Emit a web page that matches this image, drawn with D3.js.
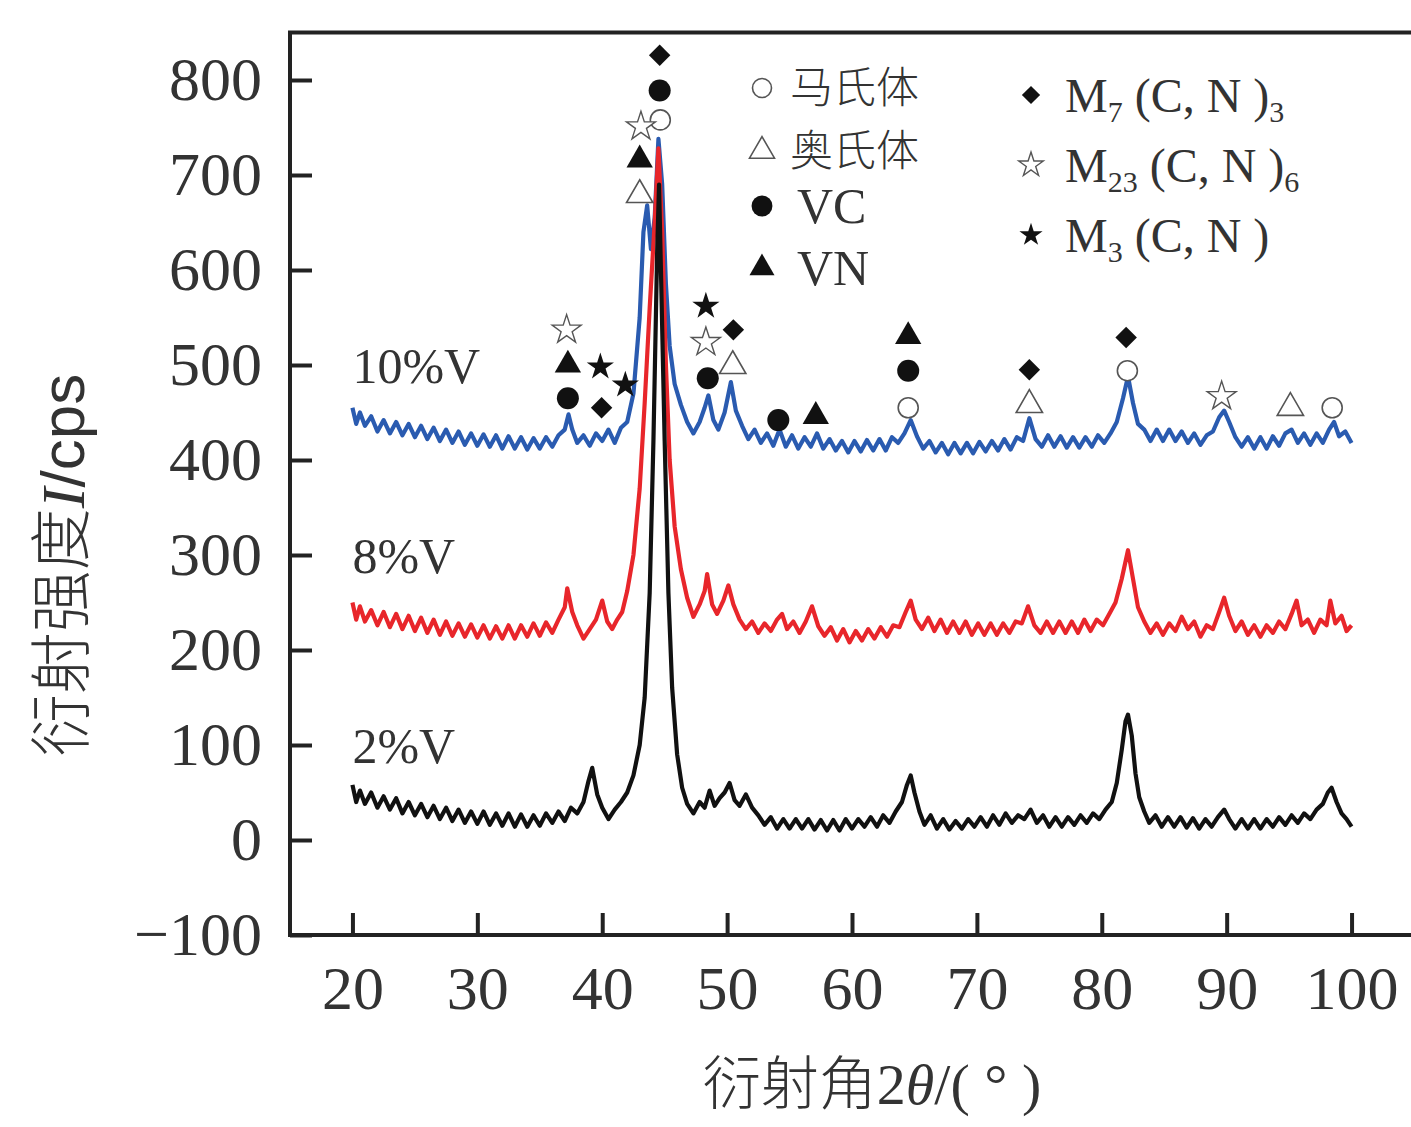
<!DOCTYPE html>
<html>
<head>
<meta charset="utf-8">
<script src="https://cdn.jsdelivr.net/npm/d3@7"></script>
<style>
  body { margin: 0; background: #fff; }
  svg { display: block; }
  .serif { font-family: "Liberation Serif", "DejaVu Serif", serif; }
  .cjk { font-family: "Noto Sans CJK SC", sans-serif; font-weight: 300; }
</style>
</head>
<body>
<svg id="chart"></svg>
<script>
// tick values
var xTicks = [20, 30, 40, 50, 60, 70, 80, 90, 100];
var yTicks = [-100, 0, 100, 200, 300, 400, 500, 600, 700, 800];

// 10%V pattern (angle, cps)
var series10 = [
  [20.0,455],[20.3,438],[20.6,450],[21.0,436],[21.5,446],[22.0,430],[22.5,442],[23.0,428],[23.5,440],[24.0,426],
  [24.5,438],[25.0,424],[25.5,436],[26.0,422],[26.5,434],[27.0,420],[27.5,432],[28.0,418],[28.5,430],[29.0,416],
  [29.5,428],[30.0,415],[30.5,427],[31.0,414],[31.5,426],[32.0,412],[32.5,425],[33.0,412],[33.5,424],[34.0,411],
  [34.5,423],[35.0,412],[35.5,424],[36.0,414],[36.5,426],[37.0,432],[37.3,448],[37.6,432],[38.0,418],[38.5,426],
  [39.0,415],[39.5,428],[40.0,420],[40.5,432],[41.0,418],[41.5,434],[42.0,440],[42.5,470],[43.0,550],[43.3,640],
  [43.6,668],[43.9,622],[44.2,655],[44.5,738],[44.8,690],[45.1,585],[45.4,520],[45.8,480],[46.3,458],[46.8,440],
  [47.3,428],[47.8,440],[48.2,455],[48.5,468],[48.9,442],[49.3,432],[49.8,450],[50.3,482],[50.7,452],[51.2,436],
  [51.7,422],[52.2,432],[52.7,418],[53.2,428],[53.7,415],[54.2,432],[54.7,414],[55.2,426],[55.7,412],[56.2,424],
  [56.7,414],[57.2,428],[57.7,412],[58.2,422],[58.7,410],[59.2,420],[59.7,408],[60.2,420],[60.7,409],[61.2,421],
  [61.7,410],[62.2,422],[62.7,410],[63.2,424],[63.7,418],[64.2,428],[64.7,442],[65.2,425],[65.7,412],[66.2,420],
  [66.7,408],[67.2,418],[67.7,406],[68.2,418],[68.7,407],[69.2,418],[69.7,407],[70.2,419],[70.7,409],[71.2,420],
  [71.7,410],[72.2,422],[72.7,411],[73.2,424],[73.7,420],[74.2,444],[74.7,422],[75.2,414],[75.7,426],[76.2,414],
  [76.7,425],[77.2,413],[77.7,424],[78.2,413],[78.7,424],[79.2,414],[79.7,426],[80.2,418],[80.7,428],[81.2,440],
  [81.7,465],[82.1,488],[82.5,460],[82.9,438],[83.4,432],[83.9,420],[84.4,432],[84.9,420],[85.4,432],[85.9,420],
  [86.4,430],[86.9,418],[87.4,428],[87.9,416],[88.4,426],[88.9,430],[89.4,445],[89.8,452],[90.2,440],[90.7,424],
  [91.2,414],[91.7,424],[92.2,412],[92.7,424],[93.2,412],[93.7,425],[94.2,415],[94.7,428],[95.2,432],[95.7,418],
  [96.2,428],[96.7,416],[97.2,428],[97.7,418],[98.2,432],[98.6,440],[99.0,425],[99.5,430],[100.0,418]
];

// 8%V pattern
var series8 = [
  [20.0,250],[20.3,232],[20.6,246],[21.0,230],[21.5,242],[22.0,226],[22.5,240],[23.0,224],[23.5,238],[24.0,222],
  [24.5,236],[25.0,220],[25.5,234],[26.0,218],[26.5,232],[27.0,216],[27.5,230],[28.0,215],[28.5,228],[29.0,214],
  [29.5,227],[30.0,213],[30.5,226],[31.0,212],[31.5,225],[32.0,212],[32.5,226],[33.0,212],[33.5,226],[34.0,214],
  [34.5,228],[35.0,215],[35.5,229],[36.0,218],[36.5,232],[37.0,245],[37.2,265],[37.6,240],[38.0,226],[38.5,212],
  [39.0,222],[39.5,232],[40.0,252],[40.4,230],[40.8,222],[41.2,232],[41.6,240],[42.0,262],[42.5,300],[43.0,370],
  [43.4,460],[43.8,560],[44.2,650],[44.5,728],[44.8,640],[45.1,500],[45.4,400],[45.8,330],[46.3,285],[46.8,255],
  [47.3,235],[47.8,248],[48.2,262],[48.4,280],[48.8,248],[49.2,238],[49.7,252],[50.1,268],[50.5,248],[51.0,232],
  [51.5,222],[52.0,230],[52.5,218],[53.0,228],[53.5,220],[54.0,232],[54.4,238],[54.8,222],[55.3,230],[55.8,218],
  [56.3,230],[56.8,246],[57.3,225],[57.8,215],[58.3,224],[58.8,210],[59.3,222],[59.8,208],[60.3,220],[60.8,210],
  [61.3,222],[61.8,212],[62.3,224],[62.8,214],[63.3,226],[63.8,224],[64.3,240],[64.7,252],[65.1,232],[65.6,222],
  [66.1,234],[66.6,220],[67.1,232],[67.6,218],[68.1,230],[68.6,218],[69.1,230],[69.6,216],[70.1,228],[70.6,216],
  [71.1,228],[71.6,216],[72.1,228],[72.6,218],[73.1,230],[73.6,228],[74.1,246],[74.6,226],[75.1,218],[75.6,230],
  [76.1,218],[76.6,230],[77.1,218],[77.6,230],[78.1,218],[78.6,232],[79.1,220],[79.6,232],[80.1,226],[80.6,238],
  [81.1,250],[81.6,275],[82.1,305],[82.5,275],[82.9,245],[83.4,230],[83.9,218],[84.4,228],[84.9,216],[85.4,228],
  [85.9,220],[86.4,235],[86.9,222],[87.4,230],[87.9,214],[88.4,226],[88.9,222],[89.4,240],[89.8,255],[90.2,236],
  [90.7,220],[91.2,230],[91.7,216],[92.2,226],[92.7,214],[93.2,226],[93.7,218],[94.2,230],[94.7,222],[95.2,238],
  [95.6,252],[96.0,226],[96.5,232],[97.0,218],[97.5,232],[98.0,226],[98.3,252],[98.7,228],[99.2,236],[99.6,220],
  [100.0,226]
];

// 2%V pattern
var series2 = [
  [20.0,58],[20.3,40],[20.6,52],[21.0,38],[21.5,50],[22.0,34],[22.5,46],[23.0,32],[23.5,44],[24.0,28],
  [24.5,40],[25.0,26],[25.5,38],[26.0,24],[26.5,36],[27.0,22],[27.5,34],[28.0,20],[28.5,32],[29.0,18],
  [29.5,30],[30.0,17],[30.5,30],[31.0,16],[31.5,28],[32.0,15],[32.5,28],[33.0,14],[33.5,27],[34.0,14],
  [34.5,26],[35.0,15],[35.5,28],[36.0,18],[36.5,30],[37.0,20],[37.5,34],[38.0,28],[38.5,40],[38.9,62],
  [39.2,76],[39.6,48],[40.0,34],[40.5,22],[41.0,32],[41.5,40],[42.0,50],[42.5,68],[43.0,100],[43.4,150],
  [43.8,260],[44.1,420],[44.4,620],[44.55,690],[44.7,600],[45.0,420],[45.3,260],[45.6,160],[46.0,90],[46.4,55],
  [46.8,38],[47.3,28],[47.8,40],[48.2,34],[48.6,52],[49.0,36],[49.4,44],[49.8,50],[50.2,60],[50.6,42],
  [51.0,36],[51.5,48],[52.0,34],[52.5,26],[53.0,16],[53.5,24],[54.0,12],[54.5,22],[55.0,12],[55.5,22],
  [56.0,12],[56.5,22],[57.0,11],[57.5,21],[58.0,10],[58.5,21],[59.0,10],[59.5,22],[60.0,12],[60.5,22],
  [61.0,14],[61.5,24],[62.0,14],[62.5,26],[63.0,18],[63.5,30],[64.0,40],[64.4,58],[64.7,68],[65.0,50],
  [65.4,30],[65.8,16],[66.3,26],[66.8,12],[67.3,22],[67.8,11],[68.3,20],[68.8,12],[69.3,22],[69.8,14],
  [70.3,24],[70.8,14],[71.3,26],[71.8,16],[72.3,28],[72.8,18],[73.3,26],[73.8,22],[74.3,32],[74.8,18],
  [75.3,26],[75.8,14],[76.3,24],[76.8,14],[77.3,24],[77.8,16],[78.3,26],[78.8,18],[79.3,28],[79.8,22],
  [80.3,32],[80.8,40],[81.2,60],[81.6,95],[81.9,125],[82.1,132],[82.4,110],[82.7,70],[83.0,45],[83.4,30],
  [83.8,18],[84.3,26],[84.8,14],[85.3,24],[85.8,14],[86.3,24],[86.8,13],[87.3,23],[87.8,12],[88.3,22],
  [88.8,14],[89.3,24],[89.8,32],[90.2,22],[90.7,12],[91.2,22],[91.7,12],[92.2,22],[92.7,12],[93.2,22],
  [93.7,14],[94.2,24],[94.7,16],[95.2,26],[95.7,18],[96.2,28],[96.7,22],[97.2,32],[97.7,38],[98.1,50],
  [98.4,55],[98.8,40],[99.2,28],[99.6,22],[100.0,14]
];

var seriesNames = ["10%V", "8%V", "2%V"];
var seriesLabelAt = [[20, 500], [20, 300], [20, 100]];

// phase marks: [angle, cps, phase]
var phaseMarks = [
  [44.6, 826, "M7"], [44.6, 789, "VC"], [44.65, 758, "mart"], [43.1, 751, "M23"], [43.0, 716, "VN"], [43.0, 679, "aus"],
  [37.15, 537, "M23"], [37.25, 500, "VN"], [37.25, 465, "VC"], [39.85, 498, "M3"], [39.95, 455, "M7"], [41.85, 479, "M3"],
  [48.3, 562, "M3"], [48.3, 524, "M23"], [48.45, 486, "VC"], [50.5, 537, "M7"], [50.45, 499, "aus"],
  [54.1, 442, "VC"], [57.1, 446, "VN"],
  [64.5, 530, "VN"], [64.5, 494, "VC"], [64.5, 455, "mart"],
  [74.2, 495, "M7"], [74.2, 458, "aus"],
  [81.95, 529, "M7"], [82.05, 494, "mart"],
  [89.6, 467, "M23"], [95.1, 455, "aus"], [98.45, 455, "mart"]
];

var legendLeft = [["mart", "马氏体"], ["aus", "奥氏体"], ["VC", "VC"], ["VN", "VN"]];
var legendRight = [
  ["M7", [["M", ""], ["7", "sub"], [" (C, N )", ""], ["3", "sub"]]],
  ["M23", [["M", ""], ["23", "sub"], [" (C, N )", ""], ["6", "sub"]]],
  ["M3", [["M", ""], ["3", "sub"], [" (C, N )", ""]]]
];

var W = 1411, H = 1127;
var svg = d3.select("#chart").attr("width", W).attr("height", H);

var x = d3.scaleLinear().domain([15, 105]).range([290, 1414]);
var y = d3.scaleLinear().domain([-100, 850]).range([935, 32.5]);

var ink = "#222";

// phase symbol drawing
function drawMark(g, phase, size) {
  var s = size || 1;
  if (phase === "mart") {
    g.append("circle").attr("r", 10 * s).attr("fill", "#fff").attr("stroke", "#555").attr("stroke-width", 1.6);
  } else if (phase === "VC") {
    g.append("circle").attr("r", 11 * s).attr("fill", "#111");
  } else if (phase === "aus") {
    g.append("path").attr("d", d3.symbol(d3.symbolTriangle, 300 * s * s)())
      .attr("fill", "#fff").attr("stroke", "#555").attr("stroke-width", 1.6);
  } else if (phase === "VN") {
    g.append("path").attr("d", d3.symbol(d3.symbolTriangle, 300 * s * s)()).attr("fill", "#111");
  } else if (phase === "M7") {
    g.append("path").attr("d", d3.symbol(d3.symbolSquare, 230 * s * s)())
      .attr("transform", "rotate(45)").attr("fill", "#111");
  } else if (phase === "M23") {
    g.append("path").attr("d", d3.symbol(d3.symbolStar, 260 * s * s)())
      .attr("fill", "#fff").attr("stroke", "#555").attr("stroke-width", 1.4);
  } else if (phase === "M3") {
    g.append("path").attr("d", d3.symbol(d3.symbolStar, 230 * s * s)()).attr("fill", "#111");
  }
}

// curves
var line = d3.line()
  .x(function (d) { return x(d[0]); })
  .y(function (d) { return y(d[1]); });

var curves = [[series10, "#2a5bb0"], [series8, "#e8262b"], [series2, "#111"]];
curves.forEach(function (c) {
  svg.append("path")
    .datum(c[0])
    .attr("fill", "none")
    .attr("stroke", c[1])
    .attr("stroke-width", 4.2)
    .attr("stroke-linejoin", "round")
    .attr("d", line);
});

// curve labels
seriesNames.forEach(function (name, i) {
  svg.append("text").attr("class", "serif")
    .attr("x", x(seriesLabelAt[i][0]))
    .attr("y", y(seriesLabelAt[i][1]) + 18)
    .attr("font-size", 50)
    .attr("fill", "#333")
    .text(name);
});

// phase marks
phaseMarks.forEach(function (m) {
  var g = svg.append("g").attr("transform", "translate(" + x(m[0]) + "," + y(m[1]) + ")");
  drawMark(g, m[2], 1);
});

// legend
var leftRows = [88, 151, 206, 268];
legendLeft.forEach(function (d, i) {
  var ly = leftRows[i];
  var g = svg.append("g").attr("transform", "translate(762," + ly + ")");
  drawMark(g, d[0], 0.95);
  var latin = d[0] === "VC" || d[0] === "VN";
  var t = svg.append("text")
    .attr("x", latin ? 797 : 790)
    .attr("y", ly + (latin ? 17 : 15))
    .attr("fill", "#333")
    .text(d[1]);
  if (latin) t.attr("class", "serif").attr("font-size", 50);
  else t.attr("class", "cjk").attr("font-size", 43);
});

legendRight.forEach(function (d, i) {
  var ly = 95 + i * 70;
  var g = svg.append("g").attr("transform", "translate(1031," + ly + ")");
  drawMark(g, d[0], 0.85);
  var t = svg.append("text").attr("class", "serif")
    .attr("x", 1065).attr("y", ly + 17)
    .attr("font-size", 48).attr("fill", "#333");
  var lowered = false;
  d[1].forEach(function (p) {
    var ts = t.append("tspan").text(p[0]);
    if (p[1] === "sub") {
      ts.attr("font-size", 30).attr("dy", 10);
      lowered = true;
    } else if (lowered) {
      ts.attr("dy", -10);
      lowered = false;
    }
  });
});

// axes
var yAxis = d3.axisLeft(y).tickValues(yTicks).tickSizeInner(-22).tickSizeOuter(0).tickPadding(28)
  .tickFormat(function (d) { return d < 0 ? "\u2212" + Math.abs(d) : d; });
var gy = svg.append("g").attr("transform", "translate(290,0)").call(yAxis);

var xAxis = d3.axisBottom(x).tickValues(xTicks).tickSizeInner(-22).tickSizeOuter(0).tickPadding(30);
var gx = svg.append("g").attr("transform", "translate(0,935)").call(xAxis);

[gx, gy].forEach(function (g) {
  g.select(".domain").remove();
  g.selectAll(".tick line").attr("stroke", ink).attr("stroke-width", 4);
  g.selectAll(".tick text").attr("class", "serif").attr("font-size", 62).attr("fill", "#333");
});

// frame
svg.append("path")
  .attr("d", "M1414,32.5H290V935H1414")
  .attr("fill", "none").attr("stroke", ink).attr("stroke-width", 4);

// axis titles
var ty = svg.append("text")
  .attr("transform", "translate(84,565) rotate(-90)")
  .attr("text-anchor", "middle")
  .attr("font-size", 62).attr("fill", "#333");
ty.append("tspan").attr("class", "cjk").text("衍射强度");
ty.append("tspan").attr("class", "serif").attr("font-style", "italic").text("I");
ty.append("tspan").attr("font-family", "Liberation Sans Narrow, Liberation Sans, sans-serif").text("/cps");

var tx = svg.append("text")
  .attr("x", 872).attr("y", 1104)
  .attr("text-anchor", "middle")
  .attr("font-size", 58).attr("fill", "#333");
tx.append("tspan").attr("class", "cjk").text("衍射角");
tx.append("tspan").attr("class", "serif").text("2");
tx.append("tspan").attr("class", "serif").attr("font-style", "italic").text("θ");
tx.append("tspan").attr("class", "serif").text("/( ° )");
</script>
</body>
</html>
